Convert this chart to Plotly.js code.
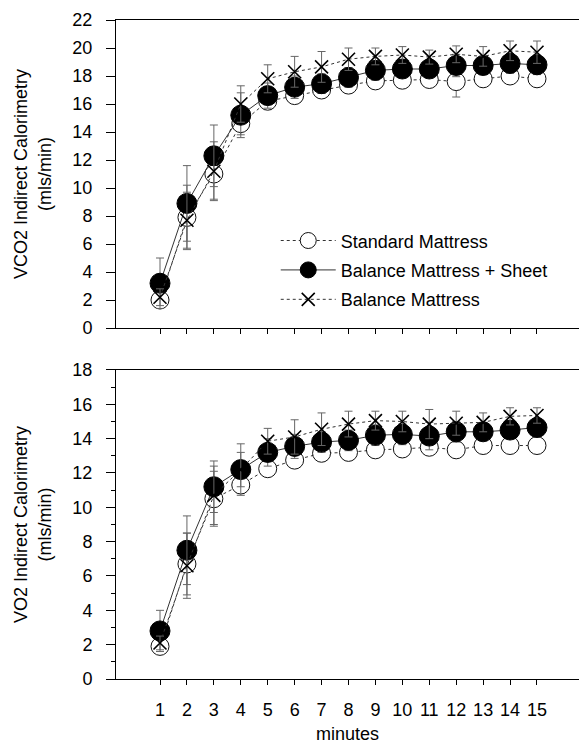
<!DOCTYPE html>
<html>
<head>
<meta charset="utf-8">
<script src="https://cdn.plot.ly/plotly-3.0.1.min.js"></script>
<style>html,body{margin:0;padding:0;background:#fff;}#chart{width:579px;height:744px;}</style>
</head>
<body>
<div id="chart"></div>
<script>
// ---- data ----
const minutes = [1, 2, 3, 4, 5, 6, 7, 8, 9, 10, 11, 12, 13, 14, 15];
const seriesNames = ["Standard Mattress", "Balance Mattress + Sheet", "Balance Mattress"];

// VCO2 (top panel)
const vco2Standard = [2.0, 7.9, 11.0, 14.6, 16.2, 16.6, 17.0, 17.35, 17.65, 17.7, 17.75, 17.6, 17.8, 18.0, 17.8];
const vco2Sheet    = [3.2, 8.9, 12.3, 15.2, 16.6, 17.2, 17.45, 17.9, 18.4, 18.5, 18.5, 18.75, 18.75, 18.9, 18.8];
const vco2Balance  = [2.2, 7.7, 11.2, 16.0, 17.8, 18.3, 18.65, 19.2, 19.4, 19.5, 19.35, 19.55, 19.4, 19.8, 19.7];
const vco2StandardErr = [0.6, 2.3, 1.8, 0.8, 0.6, 0.5, 0.5, 0.5, 0.5, 0.5, 0.5, 1.1, 0.5, 0.5, 0.5];
const vco2SheetErr    = [1.8, 2.7, 2.2, 1.6, 0.9, 0.8, 0.7, 0.7, 0.7, 0.6, 0.6, 0.8, 0.6, 0.7, 0.7];
const vco2BalanceErr  = [0.6, 2.0, 2.1, 1.3, 1.0, 1.1, 1.1, 0.8, 0.6, 0.6, 0.5, 0.6, 0.7, 0.7, 0.8];

// VO2 (bottom panel)
const vo2Standard = [1.9, 6.7, 10.5, 11.3, 12.25, 12.75, 13.15, 13.2, 13.35, 13.4, 13.5, 13.35, 13.6, 13.6, 13.6];
const vo2Sheet    = [2.8, 7.5, 11.2, 12.2, 13.2, 13.55, 13.8, 13.9, 14.2, 14.25, 14.15, 14.4, 14.4, 14.5, 14.65];
const vo2Balance  = [2.1, 6.6, 10.7, 12.2, 13.85, 14.1, 14.55, 14.85, 15.05, 15.0, 14.85, 14.9, 14.95, 15.3, 15.35];
const vo2StandardErr = [0.4, 1.8, 1.6, 0.5, 0.4, 0.4, 0.4, 0.4, 0.4, 0.4, 0.3, 0.45, 0.3, 0.3, 0.3];
const vo2SheetErr    = [1.2, 2.0, 1.5, 1.5, 0.8, 0.7, 0.6, 0.6, 0.6, 0.6, 0.8, 0.6, 0.5, 0.5, 0.5];
const vo2BalanceErr  = [0.4, 1.9, 1.7, 1.0, 0.75, 1.0, 0.95, 0.75, 0.55, 0.6, 0.85, 0.7, 0.55, 0.5, 0.45];

const topTickVals = [0, 2, 4, 6, 8, 10, 12, 14, 16, 18, 20, 22];
const bottomTickVals = [0, 2, 4, 6, 8, 10, 12, 14, 16, 18];

// ---- styles ----
const FONT = "Liberation Sans, Arial, Helvetica, sans-serif";
const styles = [
  {line: {color: "#333", width: 1, dash: "dot"},
   marker: {symbol: "circle", size: 18, color: "#fff", line: {color: "#111", width: 1}}},
  {line: {color: "#333", width: 1},
   marker: {symbol: "circle", size: 20, color: "#000", line: {color: "#000", width: 1}}},
  {line: {color: "#333", width: 1, dash: "dot"},
   marker: {symbol: "x-thin-open", size: 13, color: "#000", line: {color: "#000", width: 1.6}}}
];

function mk(y, err, i, xa, ya, showLegend) {
  return {
    x: minutes, y: y, type: "scatter", mode: "lines+markers",
    name: seriesNames[i], legendgroup: "g" + i, showlegend: showLegend,
    xaxis: xa, yaxis: ya,
    line: styles[i].line, marker: styles[i].marker,
    error_y: {type: "data", array: err, visible: true, color: "#666", thickness: 1, width: 4},
    cliponaxis: false
  };
}

const data = [
  mk(vco2Standard, vco2StandardErr, 0, "x2", "y2", true),
  mk(vco2Sheet, vco2SheetErr, 1, "x2", "y2", true),
  mk(vco2Balance, vco2BalanceErr, 2, "x2", "y2", true),
  mk(vo2Standard, vo2StandardErr, 0, "x", "y", false),
  mk(vo2Sheet, vo2SheetErr, 1, "x", "y", false),
  mk(vo2Balance, vo2BalanceErr, 2, "x", "y", false)
];

const xRange = [-0.634, 16.56];
const baseX = {
  range: xRange, tickvals: minutes, ticks: "outside", ticklen: 5, tickwidth: 1, tickcolor: "#000",
  showline: true, linecolor: "#000", linewidth: 1, mirror: true, showgrid: false, zeroline: false,
  tickfont: {family: FONT, size: 18, color: "#000"}
};
const baseY = {
  ticks: "outside", ticklen: 9, tickwidth: 1, tickcolor: "#000",
  showline: true, linecolor: "#000", linewidth: 1, showgrid: false, zeroline: false,
  tickfont: {family: FONT, size: 18, color: "#000"}, ticklabelstandoff: 10
};

const layout = {
  width: 579, height: 744,
  margin: {l: 116, r: 0, t: 20, b: 65},
  paper_bgcolor: "#fff", plot_bgcolor: "#fff",
  font: {family: FONT, size: 18, color: "#000"},
  xaxis: Object.assign({}, baseX, {anchor: "y", domain: [0, 1], ticklabelstandoff: 9,
    title: {text: "minutes", font: {family: FONT, size: 18, color: "#000"}, standoff: 10}}),
  xaxis2: Object.assign({}, baseX, {anchor: "y2", domain: [0, 1], showticklabels: false}),
  yaxis: Object.assign({}, baseY, {domain: [0, 0.4689], range: [0, 18], tickvals: bottomTickVals,
    minor: {dtick: 1, ticks: "outside", ticklen: 4, tickcolor: "#000", showgrid: false},
    title: {text: "VO2 Indirect Calorimetry<br>(mls/min)", font: {family: FONT, size: 18, color: "#000"}, standoff: 16}}),
  yaxis2: Object.assign({}, baseY, {anchor: "x2", domain: [0.5326, 1], range: [0, 22], tickvals: topTickVals,
    title: {text: "VCO2 Indirect Calorimetry<br>(mls/min)", font: {family: FONT, size: 18, color: "#000"}, standoff: 16}}),
  showlegend: true,
  legend: {x: 0.345, y: 0.693, xanchor: "left", yanchor: "top", bgcolor: "rgba(0,0,0,0)",
    font: {family: FONT, size: 18, color: "#000"}, traceorder: "grouped", tracegroupgap: 3, itemwidth: 55}
};

Plotly.newPlot("chart", data, layout, {staticPlot: true, displayModeBar: false});
</script>
</body>
</html>
